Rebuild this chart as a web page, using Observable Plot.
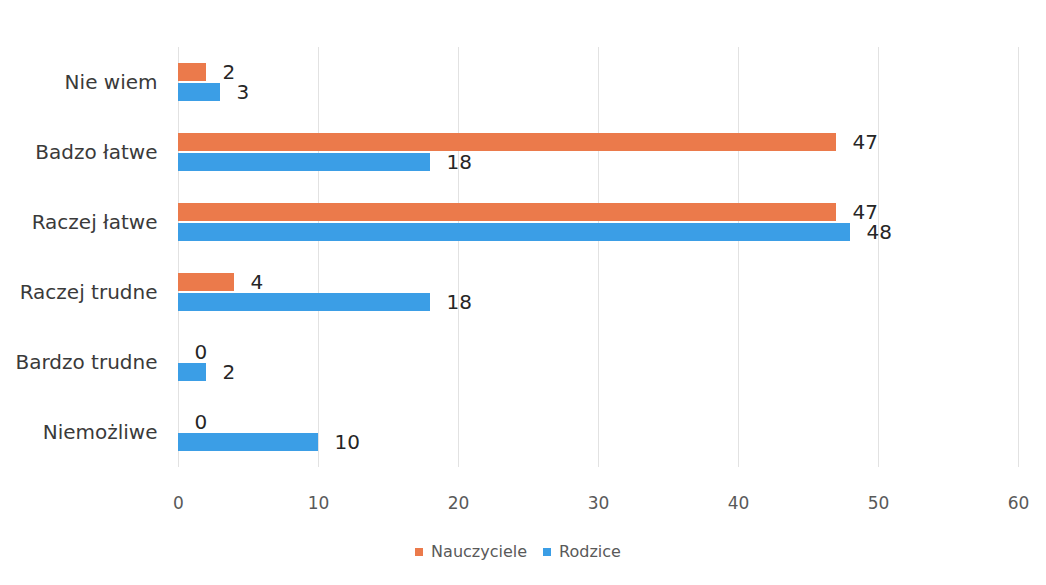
<!DOCTYPE html>
<html>
<head>
<meta charset="utf-8">
<script src="https://cdn.jsdelivr.net/npm/d3@7"></script>
<script src="https://cdn.jsdelivr.net/npm/@observablehq/plot@0.6"></script>
<style>
  html, body { margin: 0; padding: 0; background: #fff; }
  #chart svg { display: block; }
  #legend { display: flex; justify-content: center; margin-top: 15px; padding-left: 6px; }
</style>
</head>
<body>
<div id="chart"></div>
<div id="legend"></div>
<script>
const categories = ["Nie wiem", "Badzo łatwe", "Raczej łatwe", "Raczej trudne", "Bardzo trudne", "Niemożliwe"];
const series = ["Nauczyciele", "Rodzice"];
const nauczyciele = [2, 47, 47, 4, 0, 0];
const rodzice = [3, 18, 48, 18, 2, 10];
const xTicks = [0, 10, 20, 30, 40, 50, 60];
const colors = ["#EB7A4B", "#3B9EE6"];

const data = categories.flatMap((c, i) => [
  {category: c, series: series[0], value: nauczyciele[i]},
  {category: c, series: series[1], value: rodzice[i]}
]);

const font = "'DejaVu Sans', sans-serif";

const chart = Plot.plot({
  width: 1046,
  height: 520,
  marginLeft: 178,
  marginRight: 28,
  marginTop: 45,
  marginBottom: 52,
  style: {fontFamily: font, background: "#fff"},
  x: {domain: [0, 60]},
  fy: {domain: categories, padding: 0, label: null},
  y: {domain: series, axis: null, paddingInner: 0.1, paddingOuter: 0.8},
  color: {domain: series, range: colors},
  marks: [
    Plot.gridX(xTicks, {stroke: "#e2e2e2", strokeOpacity: 1}),
    Plot.axisX({ticks: xTicks, tickSize: 0, tickPadding: 29, fill: "#595959", fontSize: 17, label: null}),
    Plot.axisFy({anchor: "left", tickSize: 0, tickPadding: 21, fill: "#3a3a3a", fontSize: 20, label: null}),
    Plot.barX(data, {x: "value", y: "series", fy: "category", fill: "series"}),
    Plot.text(data, {x: "value", y: "series", fy: "category", text: d => String(d.value),
      textAnchor: "start", dx: 16, fill: "#262626", fontSize: 20})
  ]
});
document.getElementById("chart").appendChild(chart);

const legend = Plot.legend({
  color: {domain: series, range: colors},
  swatchSize: 8,
  style: {fontFamily: font, fontSize: "16px", color: "#595959", background: "transparent"}
});
document.getElementById("legend").appendChild(legend);
</script>
</body>
</html>
